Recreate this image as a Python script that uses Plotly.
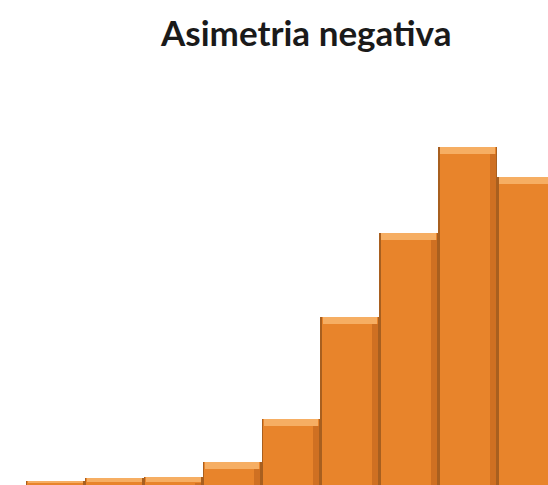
import plotly.graph_objects as go

# Frequency histogram with a long left tail (negative skew)
classes = ["1", "2", "3", "4", "5", "6", "7", "8", "9"]
counts = [1.2, 2.0, 2.3, 6.6, 19.0, 48.0, 72.0, 96.6, 88.0]
title_text = "Asimetria negativa"

ORANGE = "#E8842B"
EDGE = "#A85F1F"
BEVEL_TOP = "#F6AE63"
SHADE_RIGHT = "#CF7022"

bevel = 2.0  # thickness of the lit top strip, in data units

fig = go.Figure()

# dark outline body
fig.add_trace(go.Bar(
    x=classes, y=counts, width=1.0,
    marker=dict(color=EDGE, line=dict(width=0)),
    hoverinfo="skip", showlegend=False,
))
# main face
fig.add_trace(go.Bar(
    x=classes, y=counts, width=0.95,
    marker=dict(color=ORANGE, line=dict(width=0)),
    showlegend=False,
))
# darker right side of each bar
fig.add_trace(go.Bar(
    x=classes, y=[max(c - bevel, 0) for c in counts], width=0.1, offset=0.375,
    marker=dict(color=SHADE_RIGHT, line=dict(width=0)),
    hoverinfo="skip", showlegend=False,
))
# lit top bevel
fig.add_trace(go.Bar(
    x=classes, y=[min(bevel, c * 0.6) for c in counts],
    base=[c - min(bevel, c * 0.6) for c in counts],
    width=0.93,
    marker=dict(color=BEVEL_TOP, line=dict(width=0)),
    hoverinfo="skip", showlegend=False,
))

fig.update_layout(
    width=548, height=485,
    margin=dict(l=0, r=0, t=0, b=0),
    paper_bgcolor="white", plot_bgcolor="white",
    barmode="overlay", bargap=0,
    xaxis=dict(range=[-0.94, 8.363], visible=False, fixedrange=True),
    yaxis=dict(range=[0, 138.6], visible=False, fixedrange=True),
    annotations=[dict(
        text="<b>" + title_text + "</b>",
        xref="paper", yref="paper", x=305 / 548, y=1 - 32 / 485,
        xanchor="center", yanchor="middle", showarrow=False,
        font=dict(family="Lato", size=35, color="#1a1a1a"),
    )],
)

fig.write_html("out.html")
